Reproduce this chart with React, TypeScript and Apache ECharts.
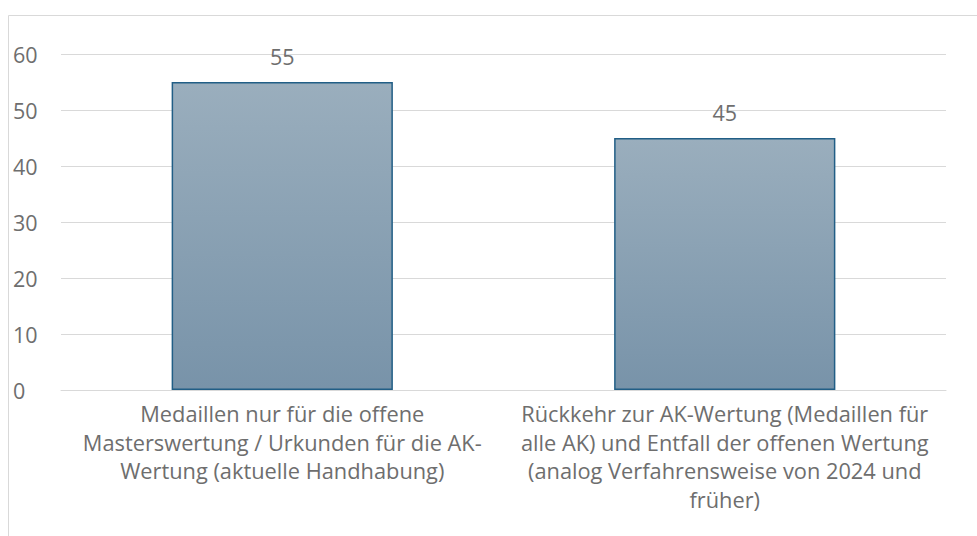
import React, { useEffect, useRef } from "react";
import * as echarts from "echarts";

const categories = [
  "Medaillen nur für die offene\nMasterswertung / Urkunden für die AK-\nWertung (aktuelle Handhabung)",
  "Rückkehr zur AK-Wertung (Medaillen für\nalle AK) und Entfall der offenen Wertung\n(analog Verfahrensweise von 2024 und\nfrüher)",
];
const values = [55, 45];
const yMin = 0;
const yMax = 60;
const yInterval = 10;

export default function App() {
  const ref = useRef<HTMLDivElement>(null);
  useEffect(() => {
    if (!ref.current) return;
    const chart = echarts.init(ref.current, undefined, { renderer: "svg" });
    const font = "'Open Sans', sans-serif";
    const textColor = "#6e6e6e";
    chart.setOption({
      animation: false,
      backgroundColor: "#ffffff",
      graphic: [
        {
          type: "rect",
          shape: { x: 8.5, y: 15.5, width: 1200, height: 800 },
          style: { fill: "none", stroke: "#d9d9d9", lineWidth: 1 },
          silent: true,
        },
      ],
      grid: { left: 61, right: 31, top: 54, bottom: 146, containLabel: false },
      xAxis: {
        type: "category",
        data: categories,
        axisLine: { show: true, lineStyle: { color: "#d9d9d9", width: 1 } },
        axisTick: { show: false },
        axisLabel: {
          interval: 0,
          color: textColor,
          fontFamily: font,
          fontSize: 21.8,
          lineHeight: 28.7,
          margin: 9,
          align: "center",
        },
      },
      yAxis: {
        type: "value",
        min: yMin,
        max: yMax,
        interval: yInterval,
        axisLine: { show: false },
        axisTick: { show: false },
        splitLine: { lineStyle: { color: "#d9d9d9", width: 1 } },
        axisLabel: {
          color: textColor,
          fontFamily: font,
          fontSize: 21.5,
          align: "left",
          margin: 48,
        },
      },
      series: [
        {
          type: "bar",
          data: values,
          barWidth: "50%",
          itemStyle: {
            color: new echarts.graphic.LinearGradient(0, 0, 0, 1, [
              { offset: 0, color: "#9aaebd" },
              { offset: 1, color: "#7893a9" },
            ]),
            borderColor: "#215e86",
            borderWidth: 1.5,
          },
          label: {
            show: true,
            position: "top",
            distance: 15,
            color: textColor,
            fontFamily: font,
            fontSize: 21.5,
          },
        },
      ],
    });
    return () => chart.dispose();
  }, []);
  return (
    <div
      ref={ref}
      style={{ position: "fixed", left: 0, top: 0, width: 977, height: 536 }}
    />
  );
}
